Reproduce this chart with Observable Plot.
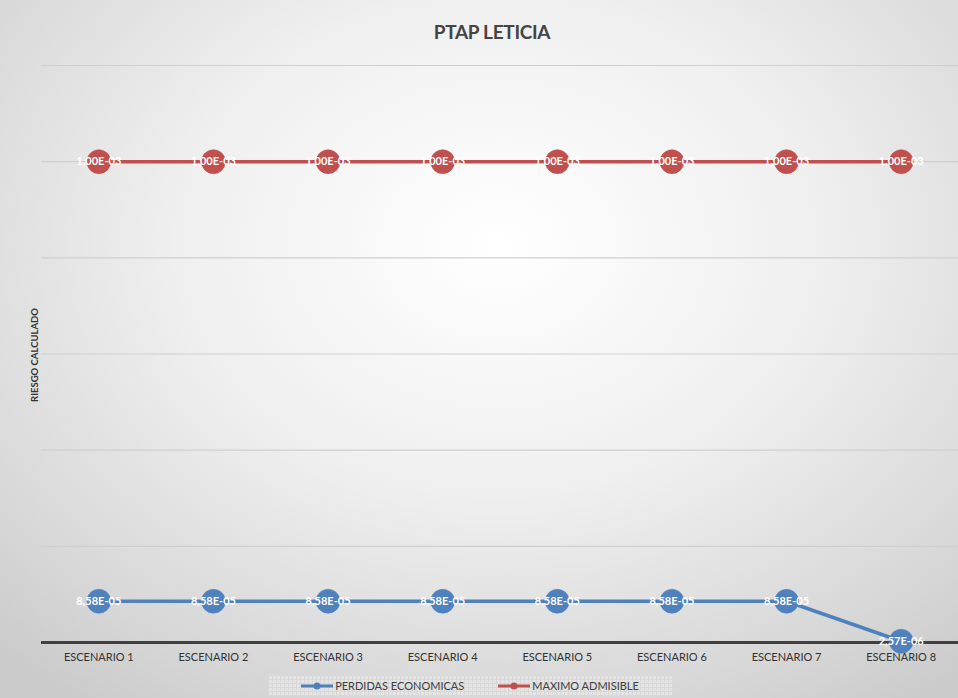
<!DOCTYPE html>
<html><head><meta charset="utf-8">
<script src="https://cdn.jsdelivr.net/npm/d3@7"></script>
<script src="https://cdn.jsdelivr.net/npm/@observablehq/plot@0.6"></script>
<style>
html,body{margin:0;padding:0;}
#wrap{position:relative;width:958px;height:698px;overflow:hidden;
 background:radial-gradient(ellipse 75% 80% at 52% 35%, #ffffff 0%, #efefef 45%, #d6d6d6 85%, #cbcbcb 100%);
 font-family:Lato,"Open Sans",sans-serif;}
#title{position:absolute;top:20px;left:0;width:984px;text-align:center;font-size:19px;font-weight:bold;color:#444;letter-spacing:-0.3px;}
#ylab{position:absolute;left:34px;top:355px;transform:translate(-50%,-50%) rotate(-90deg);font-size:9.5px;font-weight:bold;color:#333;white-space:nowrap;}
#chart{position:absolute;left:0;top:0;}
#legend{position:absolute;left:268px;top:675px;width:404px;height:21px;display:flex;align-items:center;justify-content:center;gap:34px;font-size:11px;color:#404040;
 background-color:#e4e4e4;background-image:linear-gradient(#d8d8d8 1px,transparent 1px),linear-gradient(90deg,#d8d8d8 1px,transparent 1px);background-size:4px 4px;}
.li{display:flex;align-items:center;gap:2px;}
</style></head>
<body><div id="wrap">
<div id="title">PTAP LETICIA</div>
<div id="chart"></div>
<div id="ylab">RIESGO CALCULADO</div>
<div id="legend">
 <div class="li"><svg width="32" height="10"><line x1="0" y1="5" x2="32" y2="5" stroke="#4F81BD" stroke-width="3"/><circle cx="16" cy="5" r="3.5" fill="#4F81BD"/></svg>PERDIDAS ECONOMICAS</div>
 <div class="li"><svg width="32" height="10"><line x1="0" y1="5" x2="32" y2="5" stroke="#C0504D" stroke-width="3"/><circle cx="16" cy="5" r="3.5" fill="#C0504D"/></svg>MAXIMO ADMISIBLE</div>
</div>
</div>
<script>
const categories = ["ESCENARIO 1","ESCENARIO 2","ESCENARIO 3","ESCENARIO 4","ESCENARIO 5","ESCENARIO 6","ESCENARIO 7","ESCENARIO 8"];
const perdidas = [8.58e-5,8.58e-5,8.58e-5,8.58e-5,8.58e-5,8.58e-5,8.58e-5,2.57e-6];
const maximo = [1.00e-3,1.00e-3,1.00e-3,1.00e-3,1.00e-3,1.00e-3,1.00e-3,1.00e-3];
const yTicks = [0,2e-4,4e-4,6e-4,8e-4,1.0e-3,1.2e-3];
const seriesNames = ["PERDIDAS ECONOMICAS","MAXIMO ADMISIBLE"];
const colors = ["#4F81BD","#C0504D"];

function fmt(v){
  const [m,e] = v.toExponential(2).split("e");
  const n = parseInt(e,10);
  return m.replace(".",",") + "E" + (n<0?"-":"+") + String(Math.abs(n)).padStart(2,"0");
}
const data = [];
categories.forEach((c,i)=>{
  data.push({cat:c, v:perdidas[i], s:seriesNames[0]});
  data.push({cat:c, v:maximo[i], s:seriesNames[1]});
});

const plot = Plot.plot({
  width:958, height:675,
  marginTop:65, marginBottom:33, marginLeft:41, marginRight:0,
  style:{background:"transparent", fontFamily:"Lato, 'Open Sans', sans-serif"},
  x:{type:"point", domain:categories, padding:0.5, round:false, label:null},
  y:{domain:[0,1.2e-3], axis:null, label:null},
  color:{domain:seriesNames, range:colors},
  marks:[
    Plot.ruleY(yTicks.slice(1), {stroke:"#cfcfcf", strokeWidth:1.2}),
    Plot.axisX({tickSize:0, tickPadding:11, fontSize:11, fill:"#333", label:null}),
    Plot.lineY(data, {x:"cat", y:"v", z:"s", stroke:"s", strokeWidth:3.5}),
    Plot.ruleY([0], {stroke:"#404040", strokeWidth:3}),
    Plot.dot(data, {x:"cat", y:"v", fill:"s", r:12, stroke:"s", strokeOpacity:0.5, strokeWidth:1}),
    Plot.text(data, {x:"cat", y:"v", text:d=>fmt(d.v), fill:"white", fontSize:11, fontWeight:"bold", letterSpacing:"-0.4px"})
  ]
});
document.getElementById("chart").appendChild(plot);
</script>
</body></html>
